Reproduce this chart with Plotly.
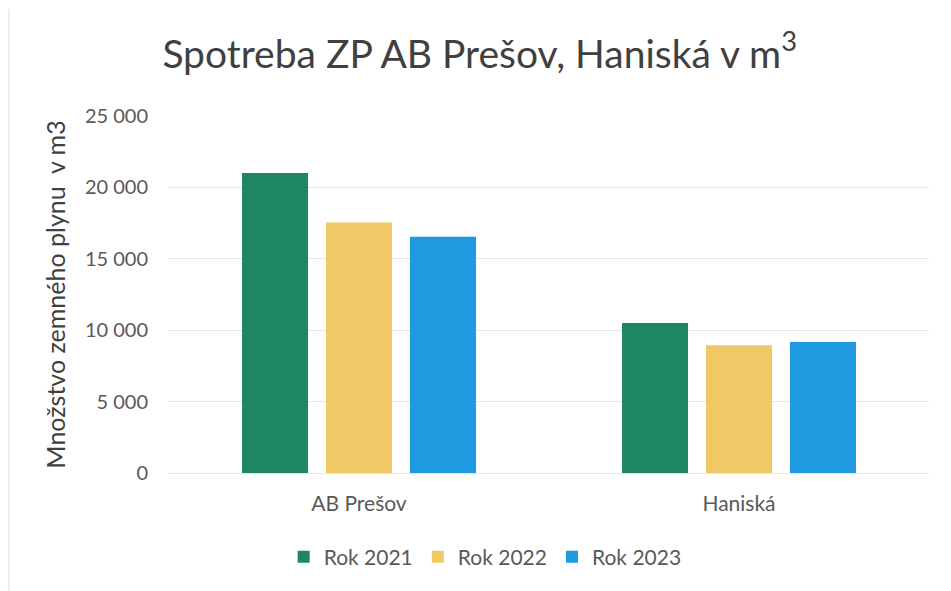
import plotly.graph_objects as go

categories = ["AB Prešov", "Haniská"]
series_names = ["Rok 2021", "Rok 2022", "Rok 2023"]
values_2021 = [21000, 10500]
values_2022 = [17550, 8950]
values_2023 = [16550, 9170]
colors = ["#1E8663", "#F0C866", "#1F9AE0"]
tick_vals = [0, 5000, 10000, 15000, 20000, 25000]

fig = go.Figure()
for name, vals, col in zip(series_names, [values_2021, values_2022, values_2023], colors):
    fig.add_trace(go.Bar(x=categories, y=vals, name=name, marker=dict(color=col, line=dict(width=0))))

font_fam = "Lato, 'Open Sans', sans-serif"
W, H = 951, 591
fig.update_layout(
    width=W, height=H,
    paper_bgcolor="white", plot_bgcolor="white",
    separators=", ",
    barmode="group", bargap=0.337, bargroupgap=0.214,
    margin=dict(l=161, r=30, t=108, b=126),
    title=dict(text="Spotreba ZP AB Prešov, Haniská v m<sup>3</sup>", x=0.496, xanchor="center",
               y=1 - 46 / H, yanchor="middle", font=dict(family=font_fam, size=39, color="#404040")),
    font=dict(family=font_fam, color="#595959"),
    yaxis=dict(range=[0, 25000], tickvals=tick_vals, tickformat=",d", showgrid=True,
               gridcolor="#E6E6E6", gridwidth=1, zeroline=False, showline=False,
               tickfont=dict(size=20, color="#595959"), ticks="", ticklabelstandoff=20,
               title=dict(text="Množstvo zemného plynu  v m3", font=dict(size=25, color="#404040"), standoff=12)),
    xaxis=dict(showline=True, linecolor="#E6E6E6", tickfont=dict(size=21, color="#595959"), ticks="",
               ticklabelstandoff=12),
    legend=dict(orientation="h", x=0.416, xanchor="center", y=-(549 - 465) / 357, yanchor="middle",
                font=dict(size=21, color="#595959"), itemwidth=30, traceorder="normal"),
    shapes=[dict(type="line", xref="paper", yref="paper", x0=-0.2105, x1=-0.2105, y0=-125 / 357, y1=1.3,
                 line=dict(color="#EEEEEE", width=2))],
)
fig.write_html("out.html")
